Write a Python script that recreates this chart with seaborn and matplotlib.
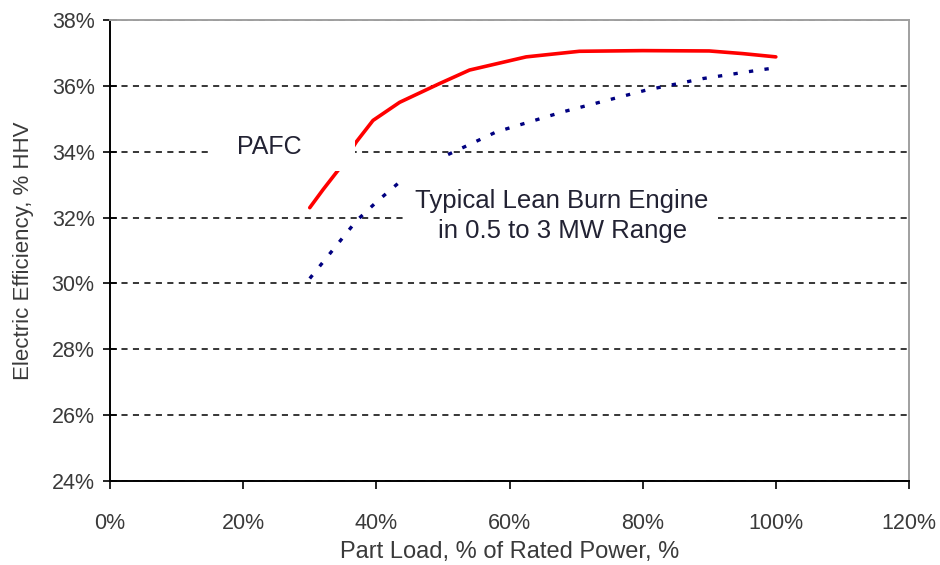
import matplotlib
matplotlib.use("Agg")
import matplotlib.pyplot as plt
import seaborn as sns
import pandas as pd
from matplotlib.ticker import PercentFormatter
from matplotlib.patches import Rectangle

# Data (part load %, efficiency % HHV)
pafc_load = [30, 32, 34.5, 37, 39.5, 43.5, 49.5, 54, 62.5, 70.5, 80, 90, 95, 100]
pafc_eff = [32.3, 32.85, 33.5, 34.3, 34.95, 35.5, 36.07, 36.48, 36.88, 37.05, 37.07, 37.06, 36.98, 36.88]
engine_load = [30, 33, 37, 40, 43.5, 50, 58, 68, 80.5, 89, 97.5, 100]
engine_eff = [30.15, 30.9, 31.9, 32.47, 33.08, 33.84, 34.6, 35.21, 35.87, 36.22, 36.48, 36.55]
x_ticks = [0, 20, 40, 60, 80, 100, 120]
y_ticks = [24, 26, 28, 30, 32, 34, 36, 38]
x_label = "Part Load, % of Rated Power, %"
y_label = "Electric Efficiency, % HHV"
pafc_name = "PAFC"
engine_name = "Typical Lean Burn Engine\nin 0.5 to 3 MW Range"

sns.set_style("white")
plt.rcParams["font.family"] = ["Liberation Sans", "DejaVu Sans"]

fig = plt.figure(figsize=(9.4, 5.65), dpi=100)
ax = fig.add_axes([110 / 940, 1 - 481 / 565, (909 - 110) / 940, (481 - 20) / 565])

pafc_df = pd.DataFrame({"load": pafc_load, "eff": pafc_eff})
eng_df = pd.DataFrame({"load": engine_load, "eff": engine_eff})

sns.lineplot(data=pafc_df, x="load", y="eff", ax=ax, color="#ff0000", linewidth=2.6,
             zorder=2, sort=False)
sns.lineplot(data=eng_df, x="load", y="eff", ax=ax, color="#000080", linewidth=2.4,
             linestyle=(0, (1.3, 3.4)), zorder=2, sort=False)

ax.set_xlim(0, 120)
ax.set_ylim(24, 38)
ax.set_xticks(x_ticks)
ax.set_yticks(y_ticks)
ax.xaxis.set_major_formatter(PercentFormatter(decimals=0))
ax.yaxis.set_major_formatter(PercentFormatter(decimals=0))

# gridlines at interior y ticks
ax.set_axisbelow(True)
ax.yaxis.grid(True, color="black", linestyle=(0, (4, 3.5)), linewidth=1.1)
ax.xaxis.grid(False)

tc = "#3a3a3a"
ax.tick_params(axis="y", direction="inout", length=10, width=1.2, color="black",
               labelsize=15.5, labelcolor=tc, pad=6)
ax.tick_params(axis="x", direction="out", length=6, width=1.2, color="black",
               labelsize=15.5, labelcolor=tc, pad=17)
ax.yaxis.set_ticks_position("left")
ax.xaxis.set_ticks_position("bottom")

ax.set_xlabel(x_label, fontsize=17, color=tc, labelpad=5)
ax.set_ylabel(y_label, fontsize=16, color=tc, labelpad=13)

for side in ["left", "bottom"]:
    ax.spines[side].set_color("black")
    ax.spines[side].set_linewidth(1.4)
for side in ["top", "right"]:
    ax.spines[side].set_color("#a0a0a0")
    ax.spines[side].set_linewidth(1.4)

# label boxes (white background covering lines)
ax.add_patch(Rectangle((14.7, 33.4), 36.8 - 14.7, 34.9 - 33.4, facecolor="white",
                       edgecolor="none", zorder=3))
ax.text(24.0, 34.14, pafc_name, ha="center", va="center", fontsize=18, color="#222233", zorder=4)
ax.add_patch(Rectangle((44.0, 30.35), 91.3 - 44.0, 33.8 - 30.35, facecolor="white",
                       edgecolor="none", zorder=3))
ax.text(67.9, 32.05, engine_name, ha="center", va="center", fontsize=18.5, color="#222233",
        linespacing=1.3, zorder=4)

fig.savefig("out.png", dpi=100)
